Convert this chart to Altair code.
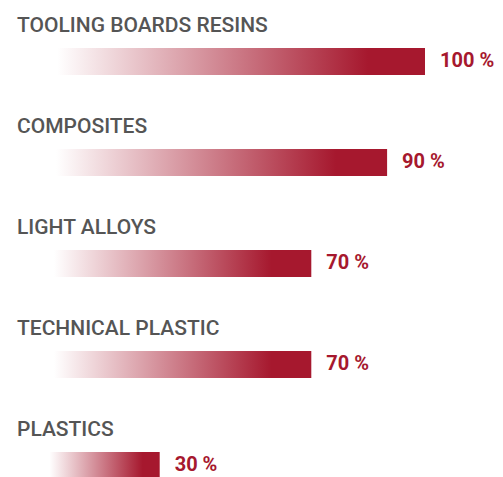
import altair as alt
import pandas as pd

categories = ["TOOLING BOARDS RESINS", "COMPOSITES", "LIGHT ALLOYS", "TECHNICAL PLASTIC", "PLASTICS"]
values = [100, 90, 70, 70, 30]
labels = ["100 %", "90 %", "70 %", "70 %", "30 %"]

df = pd.DataFrame({"cat": categories, "value": values, "label": labels})

RED = "#a6182e"
grad = alt.Gradient(
    gradient="linear",
    stops=[
        alt.GradientStop(color="#ffffff", offset=0),
        alt.GradientStop(color="#ffffff", offset=0.03),
        alt.GradientStop(color=RED, offset=0.85),
        alt.GradientStop(color=RED, offset=1),
    ],
    x1=0, x2=1, y1=0, y2=0,
)

x = alt.X("value:Q", scale=alt.Scale(domain=[0, 100], range=[38, 417]), axis=None)
y = alt.Y("cat:N", sort=categories, scale=alt.Scale(paddingInner=0, paddingOuter=0), axis=None)

base = alt.Chart(df).encode(y=y)

bars = base.mark_bar(color=grad, size=27, yOffset=3).encode(x=x)

titles = base.mark_text(
    align="left", baseline="alphabetic", dy=-27, font="Roboto", fontSize=21,
    fontWeight=500, color="#555555"
).encode(x=alt.value(9), text="cat:N")

pct = base.mark_text(
    align="left", baseline="middle", dx=15, dy=2, font="Roboto", fontSize=20,
    fontWeight="bold", color=RED
).encode(x=x, text="label:N")

chart = alt.layer(bars, titles, pct).properties(
    width=487, height=505, padding=0, autosize=alt.AutoSizeParams(type="none")
).configure_view(stroke=None)

chart.save("out.html", embed_options={"renderer": "svg", "actions": False})
